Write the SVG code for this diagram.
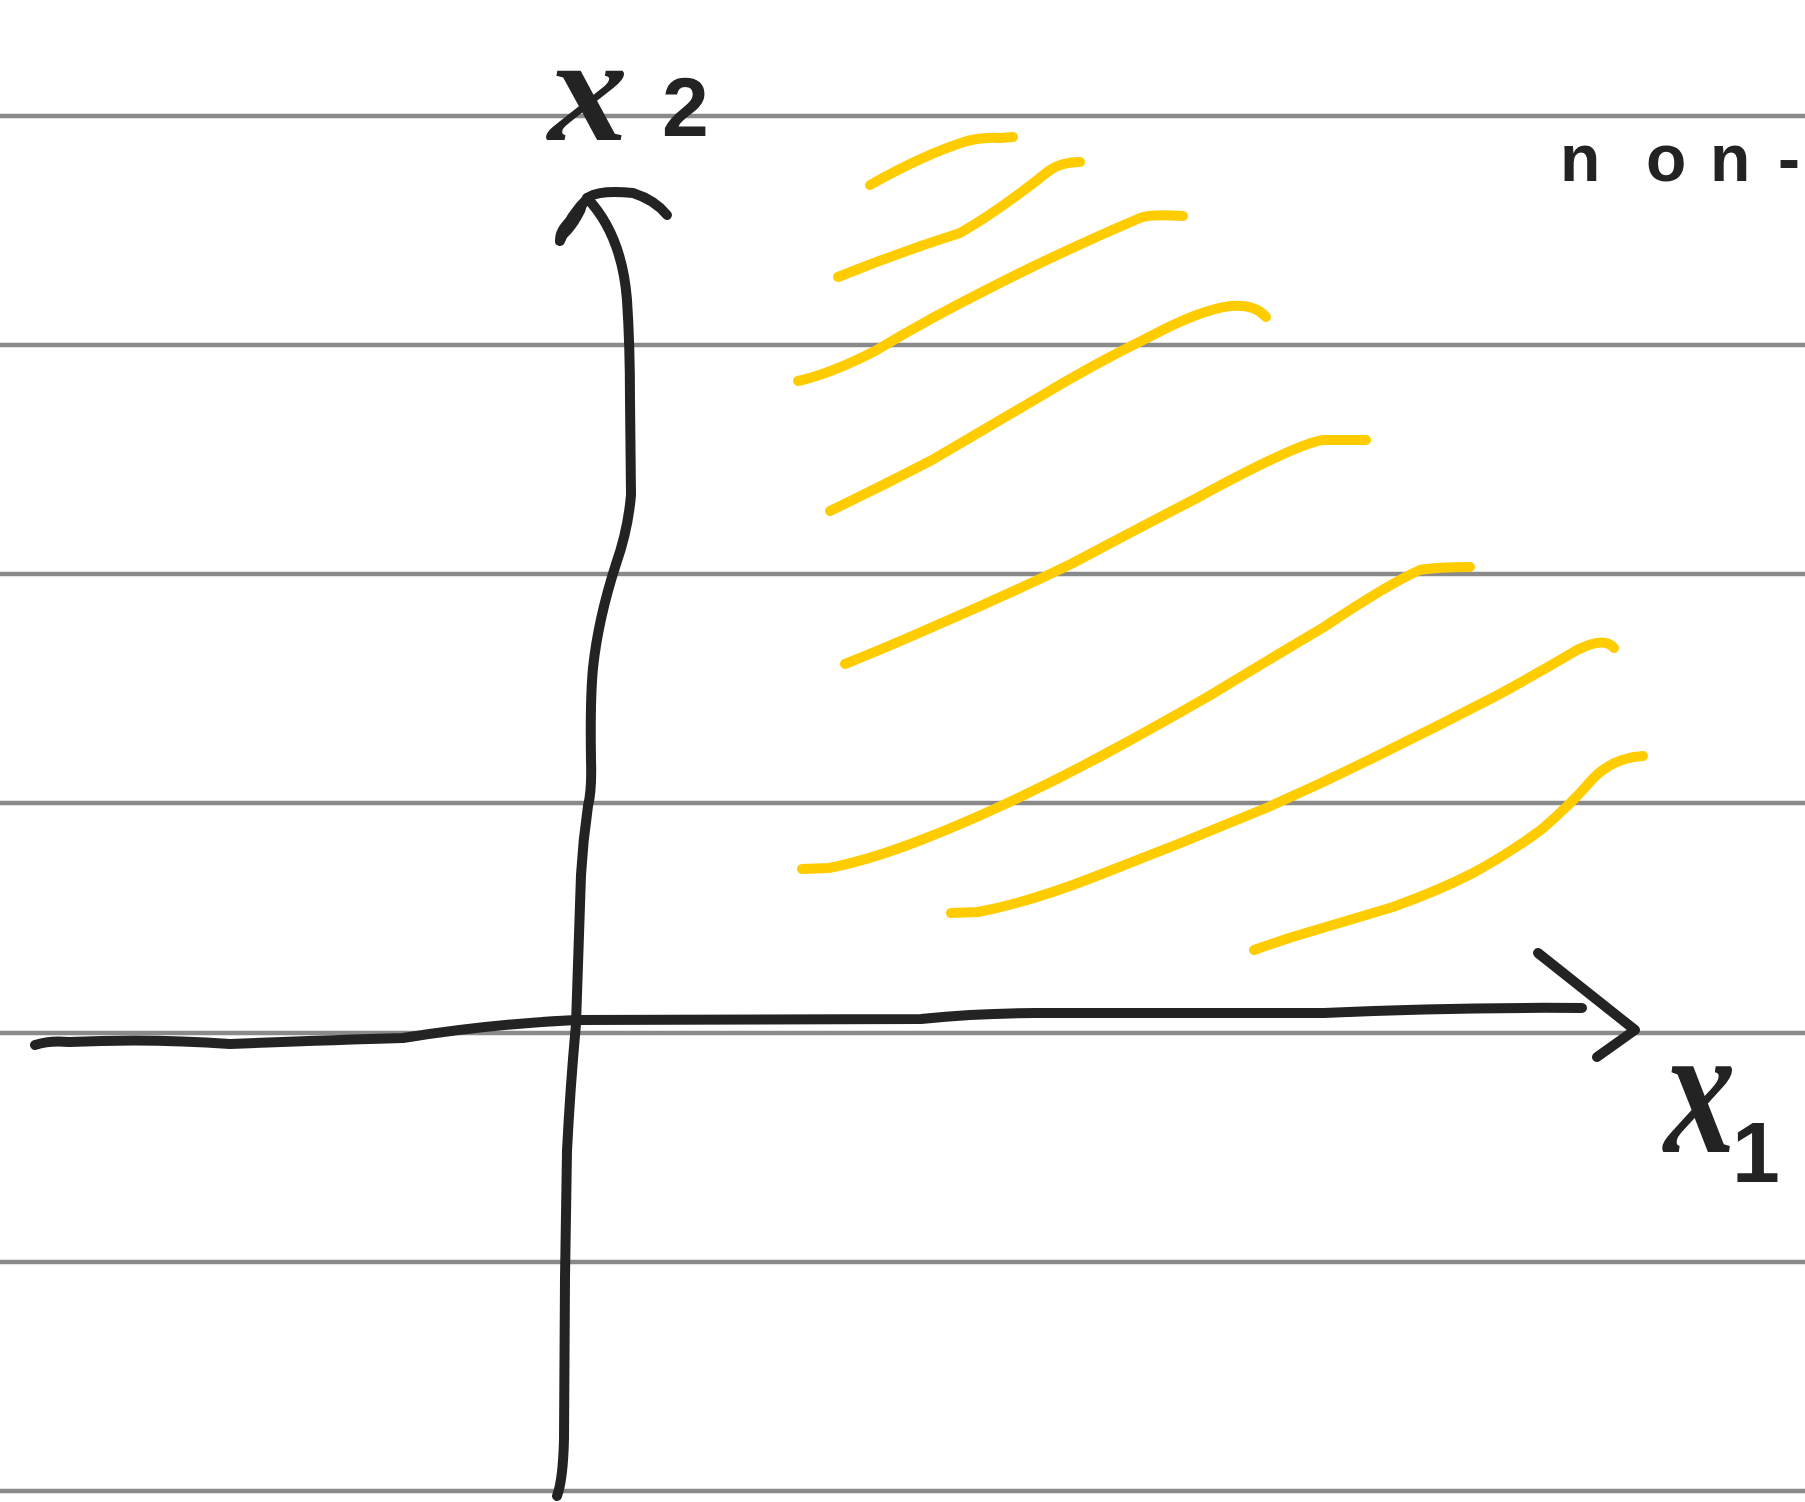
<svg xmlns="http://www.w3.org/2000/svg" width="1805" height="1502" viewBox="0 0 1805 1502">
<style>
.rule{stroke:#8a8a8a;stroke-width:4.5;fill:none}
.ink{stroke:#232323;stroke-width:10;fill:none;stroke-linecap:round;stroke-linejoin:round}
.hatch{stroke:#ffcc00;stroke-width:10;fill:none;stroke-linecap:round;stroke-linejoin:round}
.lbl{font-family:"Liberation Serif","DejaVu Serif",serif;font-style:italic;font-weight:bold;fill:#232323}
.lbls{font-family:"Liberation Sans","DejaVu Sans",sans-serif;font-weight:bold;fill:#232323}
</style>
<rect width="1805" height="1502" fill="#ffffff"/>
<g id="ruled-lines">
<line class="rule" x1="0" y1="116" x2="1805" y2="116"/>
<line class="rule" x1="0" y1="345" x2="1805" y2="345"/>
<line class="rule" x1="0" y1="574" x2="1805" y2="574"/>
<line class="rule" x1="0" y1="803" x2="1805" y2="803"/>
<line class="rule" x1="0" y1="1033" x2="1805" y2="1033"/>
<line class="rule" x1="0" y1="1262" x2="1805" y2="1262"/>
<line class="rule" x1="0" y1="1491" x2="1805" y2="1491"/>
</g>
<g id="hatching">
<path class="hatch" d="M870,185 Q925,154 967,141 Q985,137 1000,138 L1013,137"/>
<path class="hatch" d="M838,277 Q900,252 960,233 Q1000,210 1050,170 Q1062,162 1080,162"/>
<path class="hatch" d="M798,381 Q830,374 875,351 Q930,318 990,288 Q1060,252 1140,218 Q1150,214 1183,216"/>
<path class="hatch" d="M830,511 Q880,487 932,460 Q980,432 1036,399 Q1090,366 1151,336 Q1200,310 1230,306 Q1255,304 1266,317"/>
<path class="hatch" d="M845,664 Q890,646 944,622 Q1005,596 1071,564 Q1135,530 1197,498 Q1300,442 1324,440 L1366,440"/>
<path class="hatch" d="M802,869 L829,868 Q870,860 921,840 Q960,825 1001,806 Q1055,781 1105,754 Q1155,727 1209,696 Q1265,662 1324,627 Q1390,583 1420,570 Q1437,567 1470,567"/>
<path class="hatch" d="M951,913 L978,912 Q1030,902 1094,877 Q1180,844 1266,808 Q1325,782 1381,754 Q1440,725 1496,696 Q1540,672 1577,650 Q1605,636 1614,648"/>
<path class="hatch" d="M1254,950 L1289,938 Q1340,923 1393,907 Q1440,890 1473,873 Q1510,853 1542,829 Q1570,805 1589,783 Q1610,758 1643,756"/>
</g>
<g id="axes">
<path id="x2-axis" class="ink" d="M587,198 Q622,235 627,300 Q630,345 630,400 L631,495 Q628,530 616,564 Q598,620 593,668 Q590,700 591,760 Q592,790 588,806 Q583,840 581,875 L576,1024 Q570,1090 567,1151 L565,1278 L564,1439 Q563,1480 557,1496"/>
<path id="x2-arrowhead" class="ink" d="M560,241 Q570,215 589,197 Q600,190 633,193 Q655,200 667,215"/>
<path id="x2-arrow-blob" d="M556,245 Q552,232 566,218 L590,195 L585,212 Q572,238 556,245 Z" fill="#232323"/>
<path id="x1-axis" class="ink" d="M35,1045 Q50,1040 69,1042 Q150,1038 230,1044 Q330,1040 403,1038 Q490,1024 576,1020 L921,1019 Q980,1013 1036,1013 L1324,1013 Q1450,1007 1582,1008"/>
<path id="x1-arrowhead" class="ink" d="M1538,953 L1635,1030 L1597,1057"/>
</g>
<g id="labels">
<text class="lbl" font-size="100" transform="translate(548,140) scale(1.6,1.5)">x</text>
<text class="lbls" x="662" y="136" font-size="84">2</text>
<text class="lbls" font-size="66" x="1560 1646 1710 1778" y="181">non-</text>
<text class="lbl" font-size="110" transform="translate(1664,1152) scale(1.3,1.7)">x</text>
<text class="lbls" x="1732" y="1182" font-size="86">1</text>
</g>
</svg>
